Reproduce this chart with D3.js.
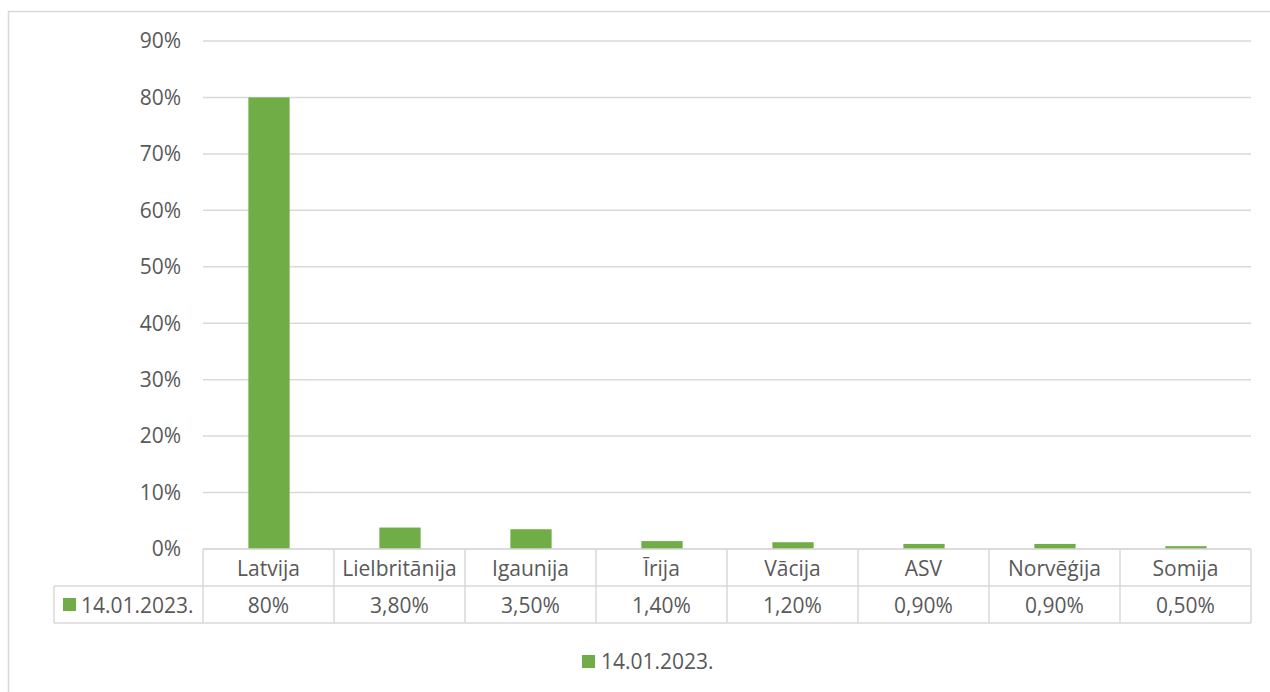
<!DOCTYPE html>
<html><head><meta charset="utf-8">
<script src="https://cdn.jsdelivr.net/npm/d3@7"></script>
<style>body{margin:0;background:#fff;}svg{display:block;font-family:"Open Sans",sans-serif;}</style>
</head><body>
<svg id="c" width="1270" height="692"></svg>
<script>
const categories = ["Latvija","Lielbritānija","Igaunija","Īrija","Vācija","ASV","Norvēģija","Somija"];
const values = [80, 3.8, 3.5, 1.4, 1.2, 0.9, 0.9, 0.5];
const valueLabels = ["80%","3,80%","3,50%","1,40%","1,20%","0,90%","0,90%","0,50%"];
const yTicks = [0,10,20,30,40,50,60,70,80,90];
const seriesName = "14.01.2023.";

const svg = d3.select("#c");
const color = "#70ad47", textColor = "#595959", gridColor = "#d9d9d9";
const L = 203, R = 1251, T = 41, B = 549;
const rowH = 37;
const fs = 21;

svg.append("rect").attr("x",8.5).attr("y",11.5).attr("width",1300).attr("height",700)
  .attr("fill","#fff").attr("stroke",gridColor).attr("stroke-width",1.5);

const x = d3.scaleBand().domain(categories).range([L,R]).paddingInner(0.685).paddingOuter(0.3425);
const y = d3.scaleLinear().domain([0,90]).range([B,T]);

svg.append("g").selectAll("line").data(yTicks).join("line")
  .attr("x1",L).attr("x2",R).attr("y1",d=>y(d)).attr("y2",d=>y(d))
  .attr("stroke",gridColor).attr("stroke-width",1.5);

svg.append("g").selectAll("text").data(yTicks).join("text")
  .attr("x",181).attr("y",d=>y(d)).attr("dy","0.35em").attr("text-anchor","end")
  .attr("fill",textColor).attr("font-size",fs).text(d=>d+"%");

svg.append("g").selectAll("rect").data(values).join("rect")
  .attr("x",(d,i)=>x(categories[i])+0.5).attr("width",x.bandwidth())
  .attr("y",d=>y(d)).attr("height",d=>B-y(d)).attr("fill",color);

// data table
const step = x.step();
const cx = i => L + step*i;
const tbl = svg.append("g").attr("stroke",gridColor).attr("stroke-width",1.5).attr("fill","none");
tbl.append("line").attr("x1",L).attr("x2",R).attr("y1",B).attr("y2",B);
tbl.append("line").attr("x1",54).attr("x2",R).attr("y1",B+rowH).attr("y2",B+rowH);
tbl.append("line").attr("x1",54).attr("x2",R).attr("y1",B+2*rowH).attr("y2",B+2*rowH);
tbl.append("line").attr("x1",54).attr("x2",54).attr("y1",B+rowH).attr("y2",B+2*rowH);
tbl.selectAll(".v").data(d3.range(categories.length+1)).join("line")
  .attr("x1",i=>cx(i)).attr("x2",i=>cx(i)).attr("y1",B).attr("y2",B+2*rowH);

svg.append("g").selectAll("text").data(categories).join("text")
  .attr("x",d=>x(d)+x.bandwidth()/2).attr("y",B+rowH/2+1).attr("dy","0.35em")
  .attr("text-anchor","middle").attr("fill",textColor).attr("font-size",fs).text(d=>d);
svg.append("g").selectAll("text").data(valueLabels).join("text")
  .attr("x",(d,i)=>x(categories[i])+x.bandwidth()/2).attr("y",B+rowH*1.5+1).attr("dy","0.35em")
  .attr("text-anchor","middle").attr("fill",textColor).attr("font-size",fs).text(d=>d);

svg.append("rect").attr("x",63).attr("y",B+rowH*1.5-6.5).attr("width",13).attr("height",13).attr("fill",color);
svg.append("text").attr("x",81).attr("y",B+rowH*1.5+1).attr("dy","0.35em")
  .attr("fill",textColor).attr("font-size",fs).text(seriesName);

// legend
svg.append("rect").attr("x",582).attr("y",655).attr("width",13).attr("height",13).attr("fill",color);
svg.append("text").attr("x",601).attr("y",662).attr("dy","0.35em")
  .attr("fill",textColor).attr("font-size",fs).text(seriesName);
</script>
</body></html>
